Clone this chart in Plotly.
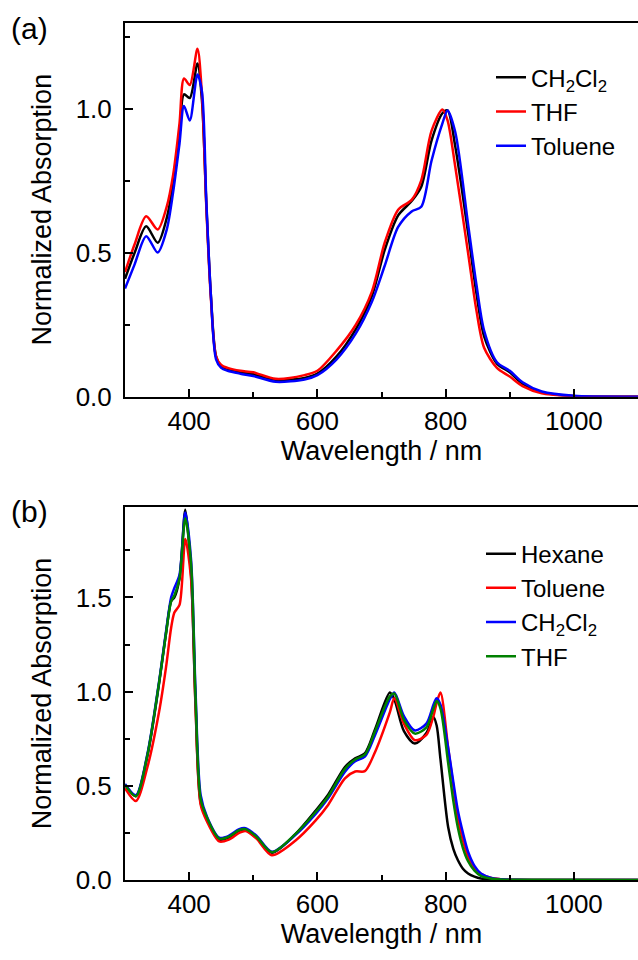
import plotly.graph_objects as go

# ---------------- Panel (a) data ----------------
wl_a = [300, 315, 333, 351, 365, 375, 385, 392, 401, 413, 420, 427, 434, 442, 450, 460,
        480, 500, 535, 580, 600, 630, 660, 685, 705, 726, 747, 762, 778, 795, 803, 815,
        835, 848, 860, 880, 900, 920, 950, 1000, 1100]
a_ch2cl2 = [0.41, 0.50, 0.592, 0.535, 0.62, 0.74, 0.92, 1.051, 1.038, 1.158, 1.03, 0.66, 0.35,
            0.14, 0.105, 0.095, 0.085, 0.078, 0.058, 0.065, 0.08, 0.14, 0.235, 0.35, 0.51,
            0.63, 0.68, 0.73, 0.89, 0.985, 0.995, 0.87, 0.57, 0.36, 0.21, 0.115, 0.085,
            0.045, 0.015, 0.002, 0.0]
a_thf = [0.433, 0.53, 0.627, 0.581, 0.66, 0.77, 0.95, 1.106, 1.083, 1.209, 1.05, 0.65, 0.34,
         0.14, 0.11, 0.10, 0.09, 0.085, 0.062, 0.075, 0.09, 0.16, 0.25, 0.365, 0.535, 0.65,
         0.684, 0.752, 0.924, 0.998, 0.96, 0.80, 0.50, 0.30, 0.17, 0.10, 0.07, 0.037,
         0.012, 0.002, 0.0]
a_toluene = [0.376, 0.46, 0.558, 0.501, 0.58, 0.71, 0.88, 1.01, 0.96, 1.12, 1.06, 0.67, 0.35,
             0.13, 0.10, 0.09, 0.08, 0.072, 0.052, 0.06, 0.075, 0.13, 0.22, 0.33, 0.455,
             0.59, 0.644, 0.66, 0.82, 0.95, 0.995, 0.92, 0.60, 0.39, 0.23, 0.12, 0.09,
             0.05, 0.018, 0.003, 0.0]

# ---------------- Panel (b) data ----------------
wl_b = [300, 317, 335, 353, 364, 372, 377, 385, 394, 403, 410, 418, 428, 447, 462, 478, 488,
        505, 529, 566, 597, 617, 643, 659, 674, 690, 713, 720, 735, 752, 770, 781, 786, 792,
        804, 812, 819, 827, 835, 845, 855, 870, 886, 910, 1100]
b_hexane = [0.506, 0.445, 0.66, 1.04, 1.31, 1.48, 1.50, 1.60, 1.965, 1.63, 0.93, 0.41, 0.32,
            0.215, 0.225, 0.26, 0.265, 0.225, 0.145, 0.245, 0.367, 0.454, 0.60, 0.646, 0.672,
            0.80, 0.995, 0.96, 0.79, 0.724, 0.78, 0.864, 0.82, 0.64, 0.28, 0.165, 0.106,
            0.06, 0.035, 0.018, 0.008, 0.003, 0.001, 0.0, 0.0]
b_toluene = [0.487, 0.419, 0.60, 0.89, 1.13, 1.34, 1.42, 1.46, 1.81, 1.60, 0.92, 0.40, 0.31,
             0.205, 0.215, 0.25, 0.26, 0.22, 0.132, 0.21, 0.315, 0.40, 0.54, 0.576, 0.578,
             0.68, 0.89, 0.965, 0.83, 0.742, 0.77, 0.87, 0.94, 0.995, 0.70, 0.50, 0.33,
             0.21, 0.123, 0.065, 0.033, 0.012, 0.004, 0.001, 0.0]
b_ch2cl2 = [0.51, 0.45, 0.67, 1.05, 1.32, 1.50, 1.55, 1.62, 1.95, 1.70, 1.0, 0.45, 0.335,
            0.225, 0.235, 0.27, 0.275, 0.235, 0.15, 0.24, 0.35, 0.435, 0.575, 0.63, 0.655,
            0.77, 0.96, 0.995, 0.87, 0.794, 0.83, 0.93, 0.965, 0.93, 0.70, 0.52, 0.37,
            0.25, 0.15, 0.075, 0.035, 0.013, 0.004, 0.001, 0.0]
b_thf = [0.505, 0.445, 0.665, 1.045, 1.31, 1.48, 1.51, 1.60, 1.92, 1.68, 0.97, 0.43, 0.33,
         0.22, 0.23, 0.265, 0.27, 0.23, 0.148, 0.245, 0.36, 0.445, 0.59, 0.64, 0.665, 0.79,
         0.975, 0.99, 0.85, 0.777, 0.81, 0.91, 0.95, 0.91, 0.62, 0.42, 0.28, 0.17, 0.10,
         0.05, 0.022, 0.008, 0.003, 0.001, 0.0]

names_a = ["CH<sub>2</sub>Cl<sub>2</sub>", "THF", "Toluene"]
names_b = ["Hexane", "Toluene", "CH<sub>2</sub>Cl<sub>2</sub>", "THF"]

FONT = "Liberation Sans, Arial, sans-serif"
W, H = 638, 960
L = 125

fig = go.Figure()
for name, ys, col in zip(names_a, [a_ch2cl2, a_thf, a_toluene], ["#000000", "#FF0000", "#0000FF"]):
    fig.add_trace(go.Scatter(x=wl_a, y=ys, name=name, mode="lines",
                             line=dict(color=col, width=2.5, shape="spline", smoothing=0.8),
                             xaxis="x", yaxis="y", legend="legend"))
for name, ys, col in zip(names_b, [b_hexane, b_toluene, b_ch2cl2, b_thf],
                         ["#000000", "#FF0000", "#0000FF", "#008000"]):
    fig.add_trace(go.Scatter(x=wl_b, y=ys, name=name, mode="lines",
                             line=dict(color=col, width=2.5, shape="spline", smoothing=0.8),
                             xaxis="x2", yaxis="y2", legend="legend2"))

axis_common = dict(showline=True, linecolor="black", linewidth=2, ticks="inside",
                   ticklen=8, tickwidth=2, tickcolor="black", showgrid=False,
                   zeroline=False, tickfont=dict(family=FONT, size=26, color="black"))

xcommon = dict(axis_common, range=[300, 1100], tick0=0, dtick=200, mirror=True,
               minor=dict(dtick=100, ticks="inside", ticklen=5, tickwidth=2, tickcolor="black"),
               title=dict(text="Wavelength / nm", font=dict(family=FONT, size=27, color="black"),
                          standoff=4))
ycommon = dict(axis_common, dtick=0.5, tickformat=".1f", ticklabelstandoff=6,
               minor=dict(dtick=0.25, ticks="inside", ticklen=5, tickwidth=2, tickcolor="black"),
               title=dict(text="Normalized Absorption", font=dict(family=FONT, size=27, color="black"),
                          standoff=16))

fig.update_layout(
    width=W, height=H, autosize=False,
    margin=dict(l=L, r=0, t=0, b=0),
    paper_bgcolor="white", plot_bgcolor="white",
    font=dict(family=FONT, size=25, color="black"),
    xaxis=dict(xcommon, domain=[0, 1], anchor="y"),
    yaxis=dict(ycommon, domain=[1 - 403 / H, 1 - 23 / H], range=[0, 1.30], anchor="x"),
    xaxis2=dict(xcommon, domain=[0, 1], anchor="y2"),
    yaxis2=dict(ycommon, domain=[1 - 894 / H, 1 - 515 / H], range=[0, 1.98], anchor="x2"),
    legend=dict(x=(491 - L) / (W - L), y=1 - 56 / H, xanchor="left", yanchor="top",
                bgcolor="rgba(0,0,0,0)", font=dict(family=FONT, size=24), tracegroupgap=0),
    legend2=dict(x=(481 - L) / (W - L), y=1 - 540 / H, xanchor="left", yanchor="top",
                 bgcolor="rgba(0,0,0,0)", font=dict(family=FONT, size=24), tracegroupgap=0),
    annotations=[
        dict(text="(a)", xref="paper", yref="paper", x=(9 - L) / (W - L), y=1 - 29 / H,
             xanchor="left", yanchor="middle", showarrow=False,
             font=dict(family=FONT, size=30, color="black")),
        dict(text="(b)", xref="paper", yref="paper", x=(9 - L) / (W - L), y=1 - 520 / H,
             xanchor="left", yanchor="middle", showarrow=False,
             font=dict(family=FONT, size=30, color="black")),
    ],
)

post = (
    "document.documentElement.style.margin='0';"
    "document.documentElement.style.overflow='hidden';"
    "document.body.style.margin='0';document.body.style.padding='0';"
    "document.body.style.overflow='hidden';"
    "var gd=document.getElementById('{plot_id}');"
    "gd.style.position='absolute';gd.style.left='0px';gd.style.top='0px';"
)
fig.write_html("out.html",
               config={"displayModeBar": False, "responsive": False},
               post_script=post)
